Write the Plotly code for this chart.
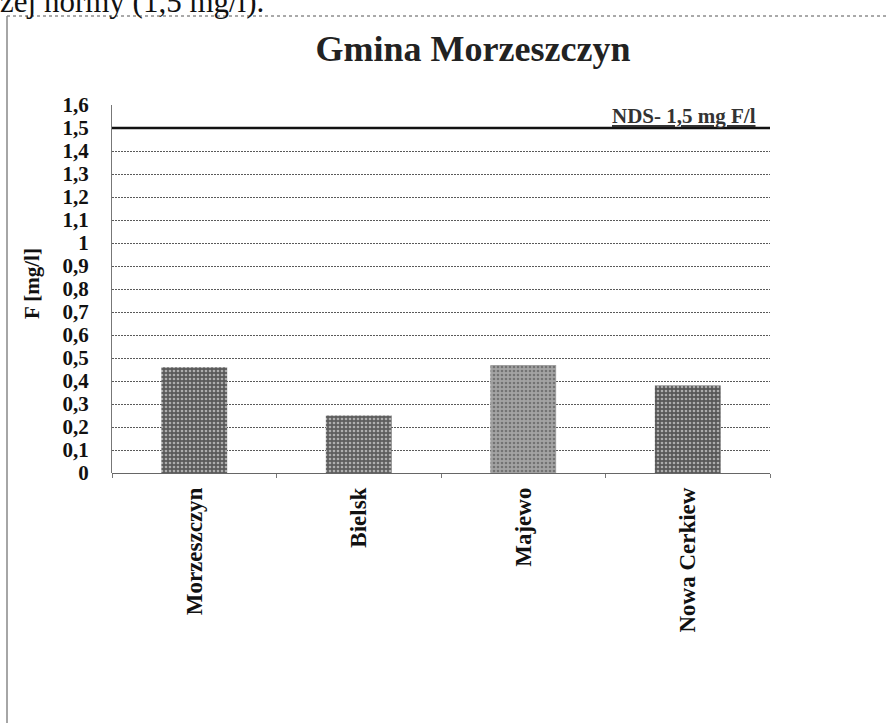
import plotly.graph_objects as go

categories = ["Morzeszczyn", "Bielsk", "Majewo", "Nowa Cerkiew"]
fluor_values = [0.46, 0.25, 0.47, 0.38]
bar_colors = ["#5a5a5a", "#5e5e5e", "#a3a3a3", "#585858"]
y_tick_values = [0, 0.1, 0.2, 0.3, 0.4, 0.5, 0.6, 0.7, 0.8, 0.9, 1.0, 1.1, 1.2, 1.3, 1.4, 1.5, 1.6]
y_tick_labels = ["0", "0,1", "0,2", "0,3", "0,4", "0,5", "0,6", "0,7", "0,8", "0,9", "1",
                 "1,1", "1,2", "1,3", "1,4", "1,5", "1,6"]
nds_limit = 1.5

serif = "Liberation Serif, Times New Roman, serif"

fig = go.Figure()
fig.add_trace(go.Bar(
    x=categories,
    y=fluor_values,
    marker=dict(color=bar_colors, line=dict(width=0),
                pattern=dict(shape=".", fgcolor="#2e2e2e", size=4, solidity=0.35)),
    showlegend=False,
))

# NDS limit line
fig.add_shape(type="line", xref="paper", yref="y", x0=0, x1=1, y0=nds_limit, y1=nds_limit,
              line=dict(color="#111111", width=2.5))

fig.add_annotation(xref="paper", yref="y", x=(758 - 112) / 658, y=nds_limit, xanchor="right", yanchor="bottom",
                   text="<b><u>NDS- 1,5 mg F/l</u></b>", showarrow=False,
                   font=dict(family=serif, size=21, color="#333333"), yshift=-2)

# y axis title
fig.add_annotation(xref="paper", yref="paper", x=(32 - 112) / 658, y=(473 - 284) / 368,
                   xanchor="center", yanchor="middle", textangle=-90,
                   text="<b>F [mg/l]</b>", showarrow=False,
                   font=dict(family=serif, size=21, color="#111111"))

# page elements around the chart (scan of a document)
fig.add_shape(type="line", xref="paper", yref="paper", x0=(7 - 112) / 658, x1=(900 - 112) / 658,
              y0=(473 - 16) / 368, y1=(473 - 16) / 368,
              line=dict(color="#555555", width=1, dash="dot"))
fig.add_shape(type="line", xref="paper", yref="paper", x0=(7 - 112) / 658, x1=(7 - 112) / 658,
              y0=(473 - 16) / 368, y1=(473 - 730) / 368,
              line=dict(color="#888888", width=1.5))
fig.add_annotation(xref="paper", yref="paper", x=(-2 - 112) / 658, y=(473 - 21) / 368,
                   xanchor="left", yanchor="bottom",
                   text="zej normy (1,5 mg/l).", showarrow=False,
                   font=dict(family=serif, size=31, color="#111111"))

fig.update_layout(
    width=888, height=723,
    margin=dict(l=112, r=118, t=105, b=250),
    paper_bgcolor="white", plot_bgcolor="white",
    bargap=0.6,
    title=dict(text="<b>Gmina Morzeszczyn</b>", x=473 / 888, xref="container", xanchor="center",
               y=1 - 48 / 723, yref="container", yanchor="middle",
               font=dict(family=serif, size=36, color="#222222")),
    font=dict(family=serif, color="#111111"),
    xaxis=dict(
        type="category", tickangle=-90, tickson="boundaries", ticks="outside", ticklen=4,
        tickcolor="#777777", showgrid=False, showline=False, zeroline=False,
        ticklabelstandoff=9,
        tickfont=dict(family=serif, size=23, color="#111111", weight="bold"),
    ),
    yaxis=dict(
        range=[0, 1.6], tickvals=y_tick_values, ticktext=y_tick_labels,
        showgrid=True, gridcolor="#5a5a5a", gridwidth=1, griddash="2px,1px",
        showline=True, linecolor="#777777", linewidth=1,
        zeroline=True, zerolinecolor="#666666", zerolinewidth=1,
        ticks="", ticklabelstandoff=18,
        tickfont=dict(family=serif, size=21, color="#111111", weight="bold"),
    ),
)

fig.write_html("out.html", config={"displayModeBar": False},
               post_script="document.body.style.margin='0';document.body.style.overflow='hidden';")
